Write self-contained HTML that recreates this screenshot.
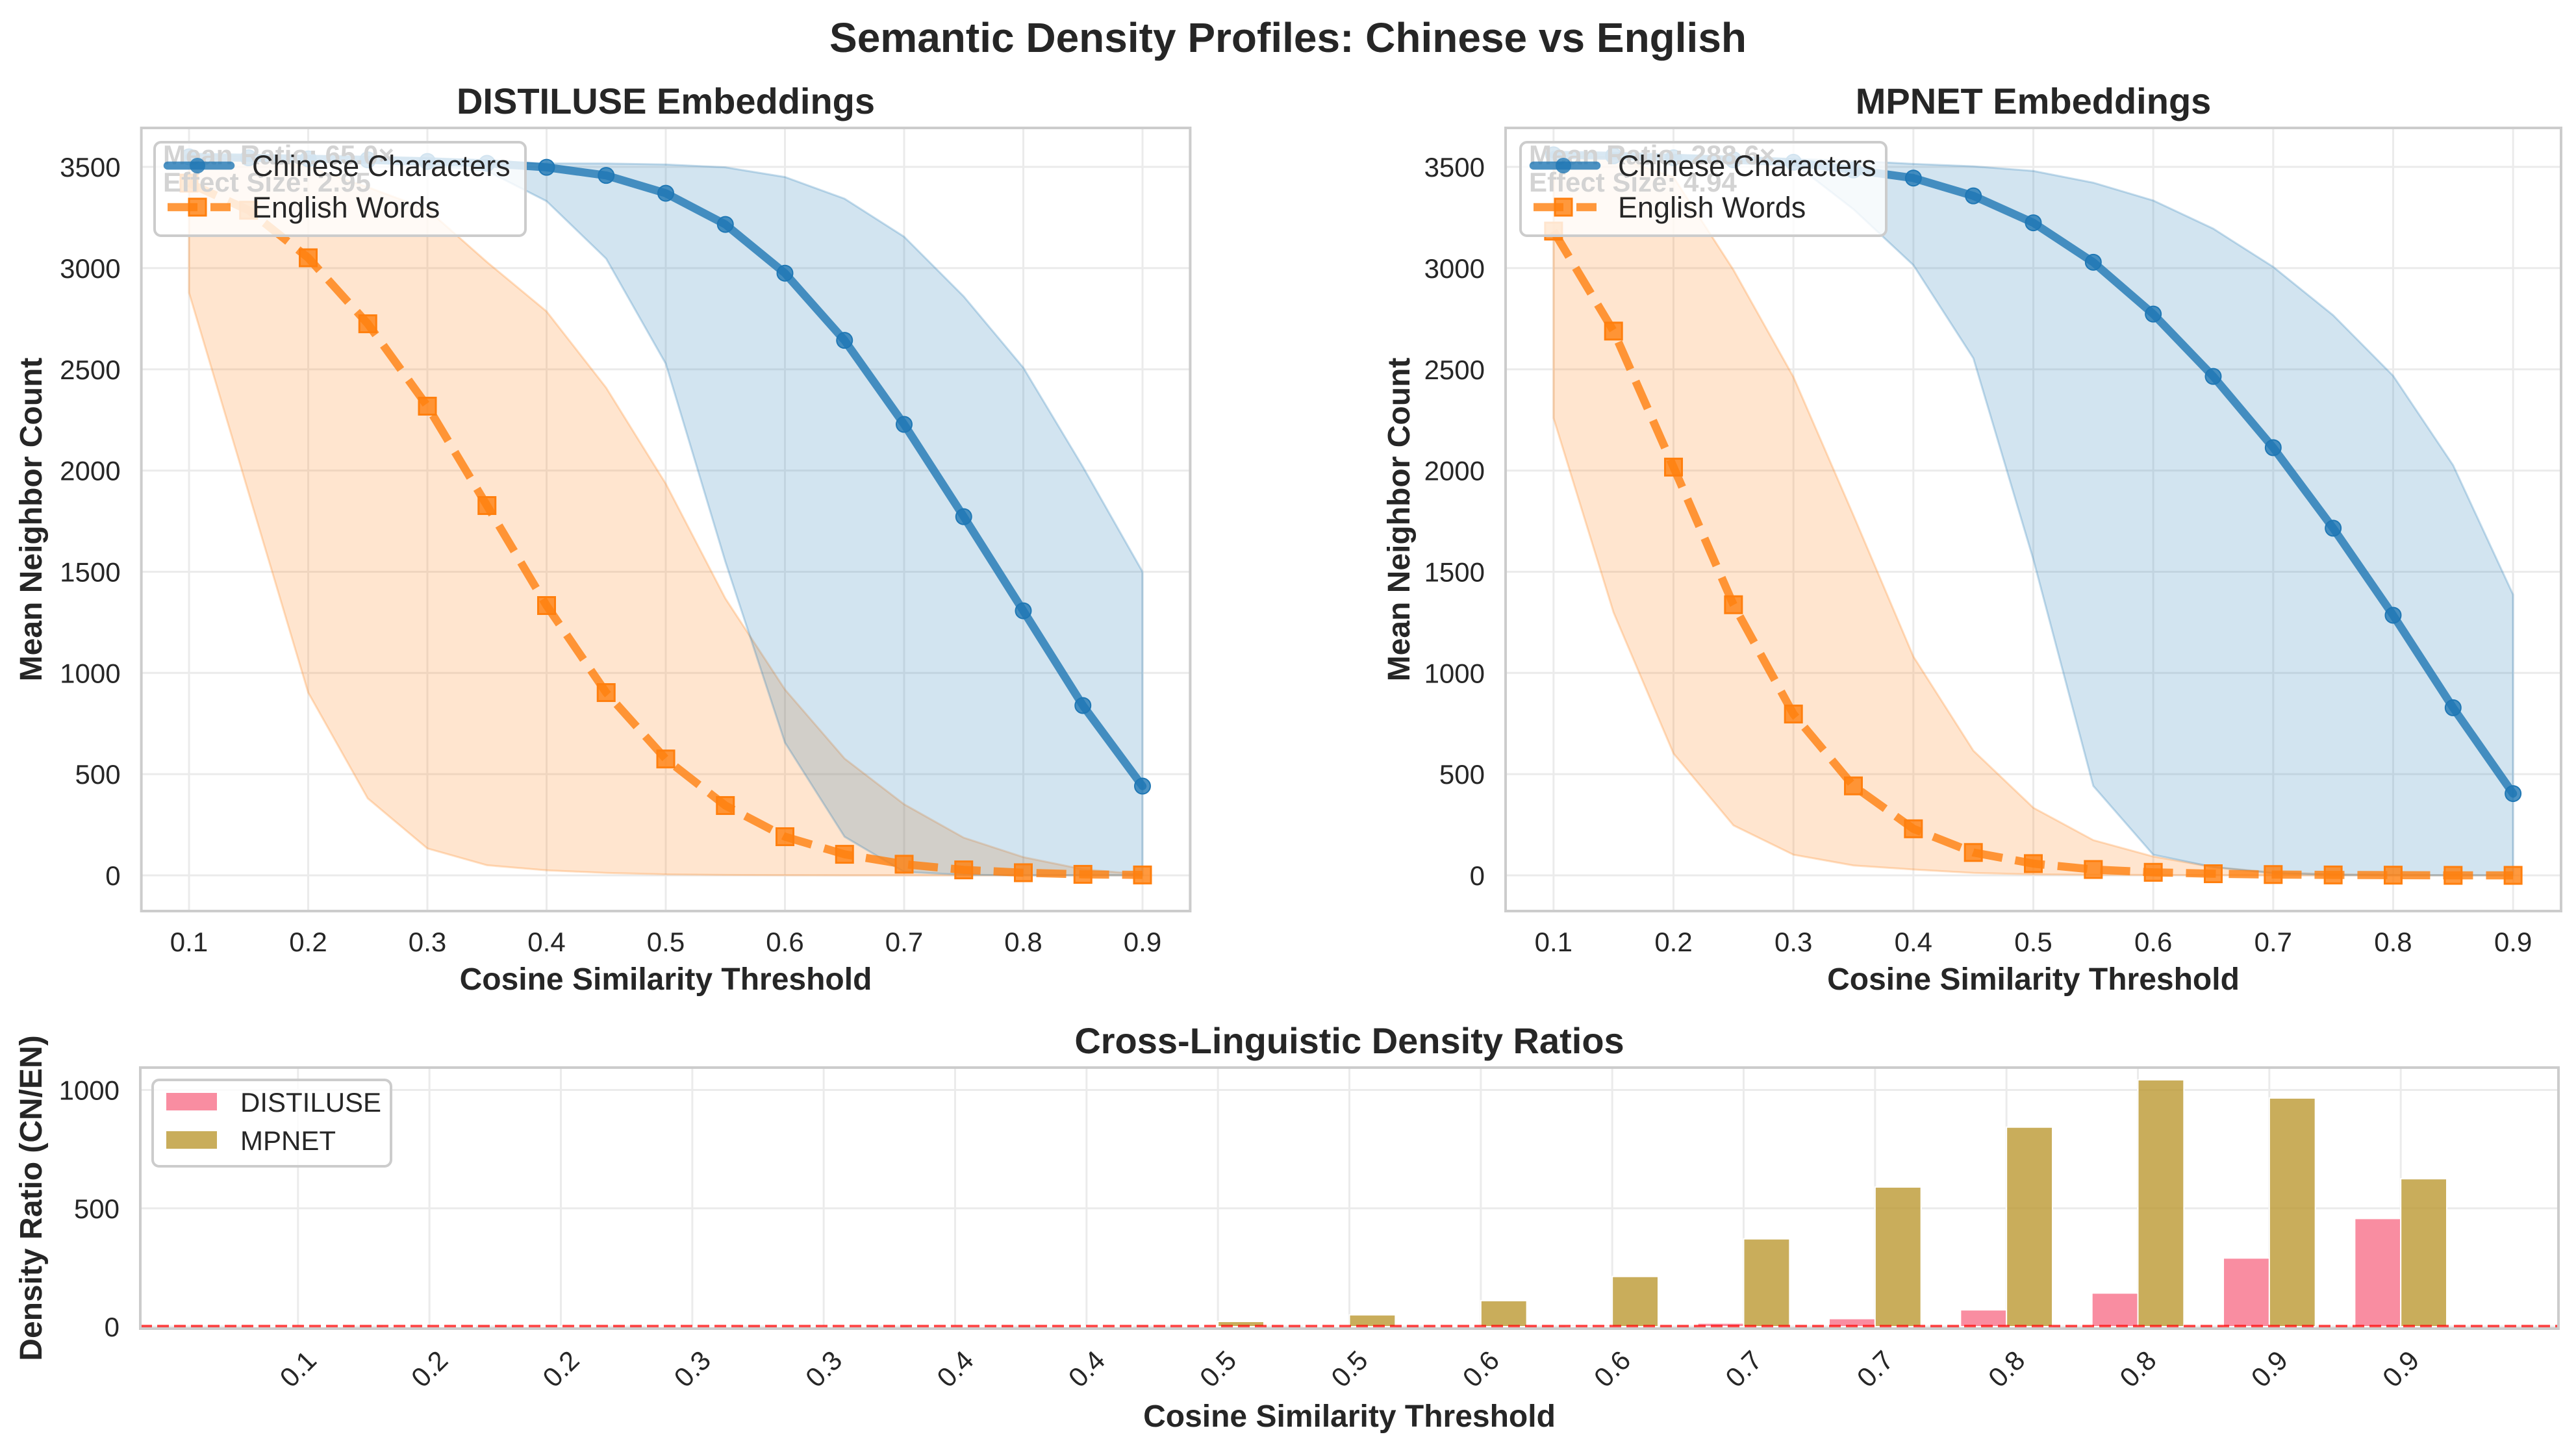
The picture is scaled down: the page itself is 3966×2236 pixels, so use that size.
<!DOCTYPE html>
<html><head><meta charset="utf-8"><style>
html,body{margin:0;padding:0;background:#fff;}
svg{display:block;font-family:"Liberation Sans",Arial,sans-serif;}
</style></head><body>
<svg id="fig" xmlns="http://www.w3.org/2000/svg" width="3966" height="2236" viewBox="0 0 3966 2236">
<rect width="3966" height="2236" fill="#fff"/>
<text x="1983" y="80" text-anchor="middle" font-size="64" font-weight="bold" fill="#262626">Semantic Density Profiles: Chinese vs English</text>
<g id="root"></g>
</svg>
<script>
const thresholds=[0.1,0.15,0.2,0.25,0.3,0.35,0.4,0.45,0.5,0.55,0.6,0.65,0.7,0.75,0.8,0.85,0.9];
// DISTILUSE
const distCn=[3550,3545,3540,3535,3527,3518,3498,3458,3370,3216,2975,2643,2228,1772,1307,839,441];
const distCnUp=[3560,3560,3555,3550,3545,3530,3517,3517,3512,3498,3450,3343,3155,2860,2508,2018,1500];
const distCnLo=[3540,3535,3530,3520,3505,3480,3331,3047,2528,1550,656,191,17,3,0,0,0];
const distEn=[3420,3286,3051,2725,2318,1827,1333,903,575,345,191,104,55,27,13,5,2];
const distEnUp=[3560,3550,3500,3400,3290,3030,2786,2409,1935,1368,918,577,351,186,90,30,5];
const distEnLo=[2879,1890,903,380,133,50,25,12,5,2,1,0,0,0,0,0,0];
// MPNET
const mpCn=[3560,3555,3545,3535,3523,3485,3445,3357,3224,3029,2773,2465,2113,1715,1285,828,404];
const mpCnUp=[3570,3565,3560,3550,3540,3530,3515,3503,3480,3422,3334,3195,3006,2767,2468,2026,1387];
const mpCnLo=[3550,3545,3540,3530,3520,3291,3015,2555,1561,442,102,41,10,2,0,0,0];
const mpEn=[3183,2689,2017,1337,797,442,230,113,58,29,15,8,4,2,1,0,0];
const mpEnUp=[3560,3550,3450,2991,2462,1779,1081,616,334,174,93,41,15,6,2,1,0];
const mpEnLo=[2259,1299,602,247,102,49,29,12,5,3,2,1,0,0,0,0,0];
// Ratios
const ratioLabels=["0.1","0.2","0.2","0.3","0.3","0.4","0.4","0.5","0.5","0.6","0.6","0.7","0.7","0.8","0.8","0.9","0.9"];
const ratioDist=[1,1,1,1,1,1,1,2,2,3,6,15,34,71,142,290,457];
const ratioMp=[1,1,1,1,1,1,3,22,50,110,212,371,590,843,1043,966,625];
const lineYTicks=[0,500,1000,1500,2000,2500,3000,3500];
const lineXTicks=[0.1,0.2,0.3,0.4,0.5,0.6,0.7,0.8,0.9];
const ratioYTicks=[0,500,1000];

const NS="http://www.w3.org/2000/svg";
const root=document.getElementById('root');
function mk(tag,attrs,parent,text){const e=document.createElementNS(NS,tag);for(const k in attrs)e.setAttribute(k,attrs[k]);if(text!==undefined)e.textContent=text;(parent||root).appendChild(e);return e;}

function linePanel(p){
  const X0=p.x0,X1=p.x1,T=197,B=1403;
  const sx=v=>X0+(v-0.06)/(0.88)*(X1-X0);
  const sy=v=>1348-v*0.3117;
  const g=mk('g',{});
  
  
  const cid='clip'+p.id;
  const cp=mk('clipPath',{id:cid},g);mk('rect',{x:X0,y:T,width:X1-X0,height:B-T},cp);
  // grid
  lineXTicks.forEach(t=>{const l=mk('line',{x1:sx(t),x2:sx(t),y1:T,y2:B,stroke:'#ebebeb','stroke-width':3},g);
    
    const tx=mk('text',{x:sx(t),y:1465,'text-anchor':'middle','font-size':42,fill:'#262626'},g,t.toFixed(1));
    });
  lineYTicks.forEach(t=>{const l=mk('line',{x1:X0,x2:X1,y1:sy(t),y2:sy(t),stroke:'#ebebeb','stroke-width':3},g);
    
    const tx=mk('text',{x:X0-32,y:sy(t)+15,'text-anchor':'end','font-size':42,fill:'#262626'},g,String(t));
    });
  const pg=mk('g',{'clip-path':'url(#'+cid+')'},g);
  function band(up,lo,col,name){
    let d='M'+thresholds.map((t,i)=>sx(t)+','+sy(up[i])).join(' L');
    for(let i=thresholds.length-1;i>=0;i--)d+=' L'+sx(thresholds[i])+','+sy(lo[i]);
    const b=mk('path',{d:d+'Z',fill:col,'fill-opacity':0.2,stroke:col,'stroke-opacity':0.25,'stroke-width':3},pg);
    }
  band(p.enUp,p.enLo,'#ff7f0e','english-range-band');
  band(p.cnUp,p.cnLo,'#1f77b4','chinese-range-band');
  // english line
  const ep=mk('polyline',{points:thresholds.map((t,i)=>sx(t)+','+sy(p.en[i])).join(' '),fill:'none',stroke:'#ff7f0e','stroke-opacity':0.8,'stroke-width':12.5,'stroke-dasharray':'46 20'},pg);
  
  thresholds.forEach((t,i)=>{const r=mk('rect',{x:sx(t)-13,y:sy(p.en[i])-13,width:26,height:26,fill:'#ff7f0e','fill-opacity':0.8,stroke:'#ff7f0e','stroke-width':3},pg);
    });
  const cl=mk('polyline',{points:thresholds.map((t,i)=>sx(t)+','+sy(p.cn[i])).join(' '),fill:'none',stroke:'#1f77b4','stroke-opacity':0.8,'stroke-width':12.5,'stroke-linejoin':'round','stroke-linecap':'round'},pg);
  
  thresholds.forEach((t,i)=>{const c=mk('circle',{cx:sx(t),cy:sy(p.cn[i]),r:12,fill:'#1f77b4','fill-opacity':0.8,stroke:'#1f77b4','stroke-width':2},pg);
    });
  // frame
  const fr=mk('rect',{x:X0,y:T,width:X1-X0,height:B-T,fill:'none',stroke:'#cccccc','stroke-width':4},g);
  
  // legend
  const L=p.leg;
  const lg=mk('g',{},g);
  
  mk('rect',{x:L.x,y:219,width:L.w,height:144,rx:10,fill:'#fff','fill-opacity':0.8,stroke:'#cccccc','stroke-width':4},lg);
  const a1=mk('text',{x:L.x+13,y:253,'font-size':42,'font-weight':'bold',fill:'#d3d3d3'},lg,p.ann1);
  
  const a2=mk('text',{x:L.x+13,y:295,'font-size':42,'font-weight':'bold',fill:'#d3d3d3'},lg,p.ann2);
  
  mk('line',{x1:L.x+20,x2:L.x+117,y1:255,y2:255,stroke:'#1f77b4','stroke-opacity':0.8,'stroke-width':12.5,'stroke-linecap':'round'},lg);
  mk('circle',{cx:L.x+66,cy:255,r:12,fill:'#1f77b4','fill-opacity':0.8},lg);
  const t1=mk('text',{x:L.x+150,y:271,'font-size':45,fill:'#262626'},lg,'Chinese Characters');
  
  mk('line',{x1:L.x+20,x2:L.x+117,y1:319,y2:319,stroke:'#ff7f0e','stroke-opacity':0.8,'stroke-width':12.5,'stroke-dasharray':'46 20'},lg);
  mk('rect',{x:L.x+53,y:306,width:26,height:26,fill:'#ff7f0e','fill-opacity':0.8,stroke:'#ff7f0e','stroke-width':3},lg);
  const t2=mk('text',{x:L.x+150,y:335,'font-size':45,fill:'#262626'},lg,'English Words');
  
  // titles
  const tt=mk('text',{x:(X0+X1)/2,y:175,'text-anchor':'middle','font-size':56,'font-weight':'bold',fill:'#262626'},g,p.title);
  
  const xl=mk('text',{x:(X0+X1)/2,y:1524,'text-anchor':'middle','font-size':48,'font-weight':'bold',fill:'#262626'},g,'Cosine Similarity Threshold');
  
  const yl=mk('text',{x:0,y:0,'text-anchor':'middle','font-size':48,'font-weight':'bold',fill:'#262626',transform:'translate('+(p.ylx)+',800) rotate(-90)'},g,'Mean Neighbor Count');
  
}
linePanel({id:1,name:'distiluse-panel',x0:217.6,x1:1832.4,title:'DISTILUSE Embeddings',cn:distCn,cnUp:distCnUp,cnLo:distCnLo,en:distEn,enUp:distEnUp,enLo:distEnLo,leg:{x:238,w:571},ann1:'Mean Ratio: 65.0×',ann2:'Effect Size: 2.95',ylx:64});
linePanel({id:2,name:'mpnet-panel',x0:2318,x1:3943,title:'MPNET Embeddings',cn:mpCn,cnUp:mpCnUp,cnLo:mpCnLo,en:mpEn,enUp:mpEnUp,enLo:mpEnLo,leg:{x:2341,w:563},ann1:'Mean Ratio: 288.6×',ann2:'Effect Size: 4.94',ylx:2170});

// ratio panel
(function(){
  const X0=216,X1=3939,T=1644,B=2046;
  const sx=i=>X0+(i+1.2)/18.4*(X1-X0);
  const sy=v=>2043-v*0.3645;
  const bw=0.35*(X1-X0)/18.4;
  const g=mk('g',{});
  
  const cp=mk('clipPath',{id:'clip3'},g);mk('rect',{x:X0,y:T,width:X1-X0,height:B-T},cp);
  ratioLabels.forEach((lab,i)=>{const l=mk('line',{x1:sx(i),x2:sx(i),y1:T,y2:B,stroke:'#ebebeb','stroke-width':3},g);
    
    const tx=mk('text',{x:0,y:0,'text-anchor':'middle','dominant-baseline':'central','font-size':42,fill:'#262626',transform:'translate('+sx(i)+',2108) rotate(-45)'},g,lab);
    });
  ratioYTicks.forEach(t=>{const l=mk('line',{x1:X0,x2:X1,y1:sy(t),y2:sy(t),stroke:'#ebebeb','stroke-width':3},g);
    
    const tx=mk('text',{x:X0-32,y:sy(t)+15,'text-anchor':'end','font-size':42,fill:'#262626'},g,String(t));
    });
  const pg=mk('g',{'clip-path':'url(#clip3)'},g);
  ratioDist.forEach((v,i)=>{const r=mk('rect',{x:sx(i)-bw,y:sy(v),width:bw,height:sy(0)-sy(v),fill:'#f77189','fill-opacity':0.8,stroke:'#fff','stroke-width':2},pg);
    });
  ratioMp.forEach((v,i)=>{const r=mk('rect',{x:sx(i),y:sy(v),width:bw,height:sy(0)-sy(v),fill:'#bb9832','fill-opacity':0.8,stroke:'#fff','stroke-width':2},pg);
    });
  const rl=mk('line',{x1:X0,x2:X1,y1:sy(1),y2:sy(1),stroke:'#ff0000','stroke-opacity':0.7,'stroke-width':5,'stroke-dasharray':'18 8'},pg);
  
  const fr=mk('rect',{x:X0,y:T,width:X1-X0,height:B-T,fill:'none',stroke:'#cccccc','stroke-width':4},g);
  
  const lg=mk('g',{},g);
  
  mk('rect',{x:235,y:1663,width:367,height:133,rx:10,fill:'#fff','fill-opacity':0.8,stroke:'#cccccc','stroke-width':4},lg);
  mk('rect',{x:256,y:1683,width:78,height:27,fill:'#f77189','fill-opacity':0.8},lg);
  const e1=mk('text',{x:370,y:1712,'font-size':42,fill:'#262626'},lg,'DISTILUSE');
  
  mk('rect',{x:256,y:1742,width:78,height:27,fill:'#bb9832','fill-opacity':0.8},lg);
  const e2=mk('text',{x:370,y:1771,'font-size':42,fill:'#262626'},lg,'MPNET');
  
  const tt=mk('text',{x:(X0+X1)/2,y:1622,'text-anchor':'middle','font-size':56,'font-weight':'bold',fill:'#262626'},g,'Cross-Linguistic Density Ratios');
  
  const xl=mk('text',{x:(X0+X1)/2,y:2197,'text-anchor':'middle','font-size':48,'font-weight':'bold',fill:'#262626'},g,'Cosine Similarity Threshold');
  
  const yl=mk('text',{x:0,y:0,'text-anchor':'middle','font-size':48,'font-weight':'bold',fill:'#262626',transform:'translate(64,1845) rotate(-90)'},g,'Density Ratio (CN/EN)');
  
})();
</script>
</body></html>
